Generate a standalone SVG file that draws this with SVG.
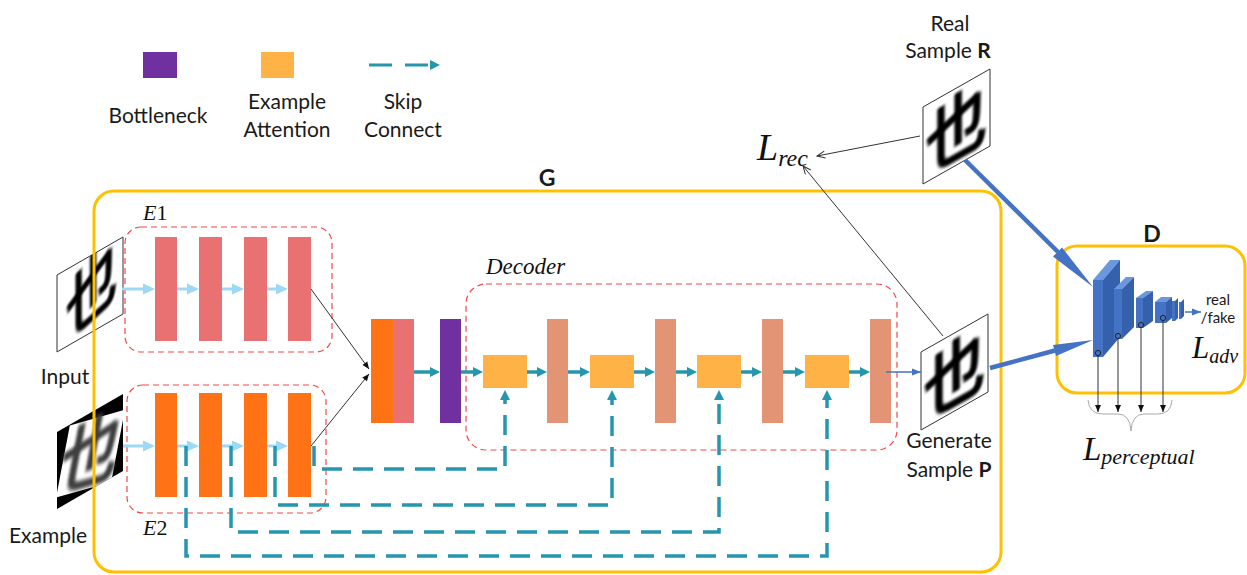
<svg xmlns="http://www.w3.org/2000/svg" width="1247" height="575" viewBox="0 0 1247 575">
<style>
  .sans{font-family:Lato,"Liberation Sans",sans-serif;fill:#1a1a1a;}
  .lbl{font-size:21px;text-anchor:middle;}
  .math{font-family:"Liberation Serif",serif;font-style:italic;fill:#111;}
  .grp{fill:none;stroke:#FFC000;stroke-width:3;}
  .region{fill:none;stroke:#F24848;stroke-width:1.2;stroke-dasharray:6 4;}
  .enc1{fill:#E97171;}
  .enc2{fill:#FF7316;}
  .dec{fill:#E39474;}
  .attn{fill:#FFB347;}
  .bott{fill:#7030A0;}
  .flow{stroke:#2596AE;stroke-width:3.5;fill:none;marker-end:url(#tealHead);}
  .skip{stroke:#2596AE;stroke-width:3.5;fill:none;stroke-dasharray:20 11;marker-end:url(#tealHead);}
  .feed{stroke:#9DD8F4;stroke-width:3;marker-end:url(#skyHead);}
  .thin{stroke:#333;stroke-width:1;fill:none;marker-end:url(#blackHead);}
  .loss{stroke:#333;stroke-width:1;fill:none;marker-end:url(#openHead);}
  .out{stroke:#4472C4;stroke-width:1.5;fill:none;marker-end:url(#blueHead);}
  .frame{fill:#fff;stroke:#333;stroke-width:1;vector-effect:non-scaling-stroke;}
  .glyph{font-family:"Noto Sans CJK SC",sans-serif;font-weight:700;font-size:94px;text-anchor:middle;}
  .front{fill:#4472C4;}
  .side{fill:#3560AC;}
  .top{fill:#6A97DE;}
  .tap{fill:none;stroke:#222;stroke-width:1;}
</style>
<defs>
  <filter id="soft" x="-10%" y="-10%" width="120%" height="120%"><feGaussianBlur stdDeviation="2"/></filter>
  <filter id="softer" x="-10%" y="-10%" width="120%" height="120%"><feGaussianBlur stdDeviation="2.4"/></filter>
  <clipPath id="sq"><rect width="100" height="100"/></clipPath>
  <marker id="tealHead" markerUnits="userSpaceOnUse" markerWidth="10" markerHeight="10" refX="3" refY="5" orient="auto" overflow="visible"><path d="M0,0 L10,5 L0,10 z" fill="#2596AE"/></marker>
  <marker id="skyHead" markerUnits="userSpaceOnUse" markerWidth="12" markerHeight="11" refX="3" refY="5.5" orient="auto" overflow="visible"><path d="M0,0 L12,5.5 L0,11 z" fill="#9DD8F4"/></marker>
  <marker id="blackHead" markerUnits="userSpaceOnUse" markerWidth="7" markerHeight="6" refX="7" refY="3" orient="auto" overflow="visible"><path d="M0,0 L7,3 L0,6 z" fill="#111"/></marker>
  <marker id="openHead" markerUnits="userSpaceOnUse" markerWidth="8" markerHeight="7" refX="8" refY="3.5" orient="auto" overflow="visible"><path d="M0,0 L8,3.5 L0,7" fill="none" stroke="#333" stroke-width="1"/></marker>
  <marker id="blueHead" markerUnits="userSpaceOnUse" markerWidth="9" markerHeight="7" refX="9" refY="3.5" orient="auto" overflow="visible"><path d="M0,0 L9,3.5 L0,7 z" fill="#4472C4"/></marker>
</defs>

<!-- legend -->
<g id="legend">
  <rect class="bott" x="143" y="52" width="34" height="26"/>
  <text class="sans lbl" x="158" y="123">Bottleneck</text>
  <rect class="attn" x="261" y="52" width="33" height="26"/>
  <text class="sans lbl" x="287" y="109">Example</text>
  <text class="sans lbl" x="287" y="137">Attention</text>
  <path d="M369,65 H433" stroke="#2596AE" stroke-width="3" stroke-dasharray="23 13" marker-end="url(#tealHead)"/>
  <text class="sans lbl" x="403" y="109">Skip</text>
  <text class="sans lbl" x="403" y="137">Connect</text>
</g>

<!-- input character image -->
<g id="input">
  <g transform="matrix(0.66,-0.38,0,0.77,57,275)">
    <rect class="frame" width="100" height="100"/>
    <g clip-path="url(#sq)">
      <text class="glyph" x="50" y="86" filter="url(#soft)" transform="translate(10,6) scale(0.85,1) skewY(-14)">也</text>
    </g>
  </g>
  <text class="sans lbl" x="65" y="384">Input</text>
</g>

<!-- example character image -->
<g id="example">
  <g transform="matrix(0.66,-0.38,0,0.77,57,432)">
    <rect width="100" height="100" fill="#000"/>
    <g clip-path="url(#sq)">
      <g transform="rotate(14,50,52)">
        <rect x="8" y="10" width="86" height="86" fill="#fff"/>
        <text class="glyph" x="51" y="87" fill="#3c3c3c" filter="url(#softer)" font-size="80" font-weight="400">也</text>
      </g>
    </g>
  </g>
  <text class="sans lbl" x="48" y="543">Example</text>
</g>

<!-- generator -->
<g id="G">
  <rect class="grp" x="94" y="191" width="907" height="381" rx="20"/>
  <text class="sans" x="547" y="186" font-size="23" font-weight="700" text-anchor="middle">G</text>
</g>

<g id="E1">
  <rect class="region" x="125" y="227" width="207" height="125" rx="16"/>
  <text class="math" x="143" y="220" font-size="22">E<tspan font-style="normal">1</tspan></text>
  <rect class="enc1" x="155" y="237" width="22" height="104"/>
  <rect class="enc1" x="199" y="237" width="23" height="104"/>
  <rect class="enc1" x="244" y="237" width="23" height="104"/>
  <rect class="enc1" x="288" y="237" width="23" height="104"/>
</g>

<g id="E2">
  <rect class="region" x="127" y="385" width="199" height="128" rx="16"/>
  <text class="math" x="143" y="535" font-size="22">E<tspan font-style="normal">2</tspan></text>
  <rect class="enc2" x="155" y="393" width="22" height="104"/>
  <rect class="enc2" x="199" y="393" width="23" height="104"/>
  <rect class="enc2" x="244" y="393" width="23" height="104"/>
  <rect class="enc2" x="288" y="393" width="23" height="104"/>
</g>

<g id="concat">
  <rect class="enc2" x="371" y="319" width="22" height="104"/>
  <rect class="enc1" x="393" y="319" width="21" height="104"/>
</g>

<g id="bottleneck">
  <rect class="bott" x="440" y="319" width="21" height="104"/>
</g>

<g id="decoder">
  <rect class="region" x="466" y="284" width="431" height="166" rx="20"/>
  <text class="math" x="486" y="274" font-size="23">Decoder</text>
  <rect class="attn" x="483" y="355" width="44" height="33"/>
  <rect class="dec" x="547" y="319" width="21" height="104"/>
  <rect class="attn" x="590" y="355" width="44" height="33"/>
  <rect class="dec" x="655" y="319" width="21" height="104"/>
  <rect class="attn" x="697" y="355" width="44" height="33"/>
  <rect class="dec" x="762" y="319" width="21" height="104"/>
  <rect class="attn" x="805" y="355" width="44" height="33"/>
  <rect class="dec" x="870" y="319" width="21" height="104"/>
</g>

<!-- generated sample -->
<g id="generated">
  <g transform="matrix(0.67,-0.38,0,0.78,921,352)">
    <rect class="frame" width="100" height="100"/>
    <g clip-path="url(#sq)">
      <text class="glyph" x="50" y="87" filter="url(#soft)">也</text>
    </g>
  </g>
  <text class="sans lbl" x="949" y="448">Generate</text>
  <text class="sans lbl" x="949" y="477">Sample <tspan font-weight="700">P</tspan></text>
</g>

<!-- real sample -->
<g id="real">
  <g transform="matrix(0.67,-0.38,0,0.77,923,107)">
    <rect class="frame" width="100" height="100"/>
    <g clip-path="url(#sq)">
      <text class="glyph" x="50" y="87" filter="url(#soft)">也</text>
    </g>
  </g>
  <text class="sans lbl" x="950" y="31">Real</text>
  <text class="sans lbl" x="948" y="58">Sample <tspan font-weight="700">R</tspan></text>
</g>

<!-- discriminator -->
<g id="D">
  <rect class="grp" x="1057" y="246" width="188" height="147" rx="20"/>
  <text class="sans" x="1152" y="242" font-size="23" font-weight="700" text-anchor="middle">D</text>
  <polygon class="top" points="1093,280 1110,260 1120,260 1103,280"/>
  <polygon class="side" points="1103,280 1120,260 1120,337 1103,357"/>
  <rect class="front" x="1093" y="280" width="10" height="77"/>
  <polygon class="top" points="1114,289 1126,277 1134,277 1122,289"/>
  <polygon class="side" points="1122,289 1134,277 1134,327 1122,339"/>
  <rect class="front" x="1114" y="289" width="8" height="50"/>
  <polygon class="top" points="1136,298 1146,291 1153,291 1143,298"/>
  <polygon class="side" points="1143,298 1153,291 1153,321 1143,328"/>
  <rect class="front" x="1136" y="298" width="7" height="30"/>
  <polygon class="top" points="1155,302 1161,297 1172,297 1166,302"/>
  <polygon class="side" points="1166,302 1172,297 1172,318 1166,323"/>
  <rect class="front" x="1155" y="302" width="11" height="21"/>
  <polygon class="side" points="1175,301 1178,298 1178,318 1175,321"/>
  <rect class="front" x="1172" y="301" width="3" height="20"/>
  <polygon class="side" points="1181,302 1184,299 1184,316 1181,319"/>
  <rect class="front" x="1179" y="302" width="2" height="17"/>
  <circle class="tap" cx="1098" cy="353" r="2.6"/>
  <circle class="tap" cx="1118" cy="336" r="2.6"/>
  <circle class="tap" cx="1141" cy="325" r="2.6"/>
  <circle class="tap" cx="1163" cy="318" r="2.6"/>
  <text class="sans" x="1218" y="305" font-size="15" text-anchor="middle">real</text>
  <text class="sans" x="1218" y="323" font-size="15" text-anchor="middle">/fake</text>
  <text class="math" x="1192" y="358" font-size="31">L<tspan font-size="20" dy="5">adv</tspan></text>
</g>

<g id="losses">
  <text class="math" x="757" y="160" font-size="38">L<tspan font-size="24" dy="6">rec</tspan></text>
  <text class="math" x="1083" y="460" font-size="33">L<tspan font-size="22" dy="4">perceptual</tspan></text>
  <path d="M1088,400 Q1089,414 1103,414 L1118,414 Q1130,414 1131,431 Q1132,414 1144,414 L1158,414 Q1171,414 1172,400" fill="none" stroke="#aaa" stroke-width="1"/>
</g>

<!-- connectors -->
<g id="connectors">
  <!-- encoder feeds -->
  <line class="feed" x1="122" y1="289" x2="146" y2="289"/>
  <line class="feed" x1="177" y1="289" x2="190" y2="289"/>
  <line class="feed" x1="222" y1="289" x2="235" y2="289"/>
  <line class="feed" x1="267" y1="289" x2="279" y2="289"/>
  <line class="feed" x1="123" y1="446" x2="146" y2="446"/>
  <line class="feed" x1="177" y1="446" x2="190" y2="446"/>
  <line class="feed" x1="222" y1="446" x2="235" y2="446"/>
  <line class="feed" x1="267" y1="446" x2="279" y2="446"/>
  <!-- encoders into concatenation -->
  <line class="thin" x1="311" y1="289" x2="369" y2="369"/>
  <line class="thin" x1="311" y1="446" x2="369" y2="374"/>
  <!-- main decoding path -->
  <line class="flow" x1="414" y1="372" x2="433" y2="372"/>
  <line class="flow" x1="461" y1="372" x2="476" y2="372"/>
  <line class="flow" x1="527" y1="372" x2="540" y2="372"/>
  <line class="flow" x1="568" y1="372" x2="583" y2="372"/>
  <line class="flow" x1="634" y1="372" x2="648" y2="372"/>
  <line class="flow" x1="676" y1="372" x2="690" y2="372"/>
  <line class="flow" x1="741" y1="372" x2="755" y2="372"/>
  <line class="flow" x1="783" y1="372" x2="798" y2="372"/>
  <line class="flow" x1="849" y1="372" x2="863" y2="372"/>
  <line class="out" x1="886" y1="372" x2="921" y2="372"/>
  <!-- skip connections from E2 into example attention -->
  <path class="skip" d="M314,446 V469 H505 V397"/>
  <path class="skip" d="M275,446 V505 H612 V397"/>
  <path class="skip" d="M231,446 V532 H719 V397"/>
  <path class="skip" d="M186,446 V556 H827 V397"/>
  <!-- reconstruction loss -->
  <line class="loss" x1="920" y1="136" x2="817" y2="156"/>
  <line class="loss" x1="943" y1="336" x2="803" y2="166"/>
  <!-- samples into discriminator -->
  <line x1="965" y1="160" x2="1058" y2="252" stroke="#4472C4" stroke-width="4.5"/>
  <polygon points="1062,247.5 1053,256.5 1093,287" fill="#4472C4"/>
  <line x1="990" y1="368" x2="1055" y2="350.5" stroke="#4472C4" stroke-width="4.5"/>
  <polygon points="1053,345 1056,356 1093,340" fill="#4472C4"/>
  <!-- discriminator output and feature taps -->
  <line class="out" x1="1185" y1="312" x2="1201" y2="312"/>
  <line class="thin" x1="1098" y1="356" x2="1098" y2="412"/>
  <line class="thin" x1="1118" y1="339" x2="1118" y2="412"/>
  <line class="thin" x1="1141" y1="328" x2="1141" y2="412"/>
  <line class="thin" x1="1163" y1="321" x2="1163" y2="412"/>
</g>
</svg>
